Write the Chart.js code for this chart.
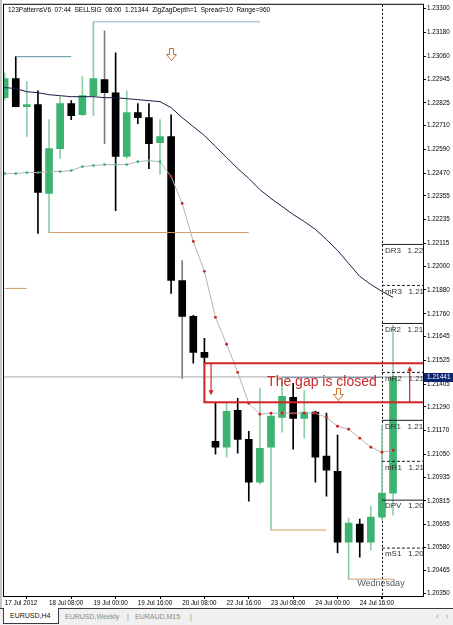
<!DOCTYPE html>
<html>
<head>
<meta charset="utf-8">
<script src="https://cdn.jsdelivr.net/npm/chart.js@4.4.1/dist/chart.umd.min.js"></script>
<style>
  html, body { margin: 0; padding: 0; background: #fff; }
  body { width: 453px; height: 625px; overflow: hidden; position: relative; font-family: "Liberation Sans", Arial, sans-serif; }
  #wrap { position: absolute; left: 0; top: 0; width: 453px; height: 609px; }
  #edge { position: absolute; left: 0; top: 0; width: 2px; height: 609px; background: #c4c4c4; }
  #tabs { position: absolute; left: 0; top: 608px; width: 453px; height: 17px; background: #f0f0f0; border-top: 1px solid #3a3a3a; font-size: 7px; color: #8a8a8a; }
  #tabs span { position: absolute; top: 4px; white-space: nowrap; line-height: 8px; }
  #tabs .sel { left: 3px; top: -1px; width: 54px; height: 15px; background: #fff; border: 1px solid #3a3a3a; border-top: none; color: #111; line-height: 15px; }
  #tabs .sel b { font-weight: normal; position: absolute; left: 6px; top: 0; }
</style>
</head>
<body>
<div id="wrap"><canvas id="chart" width="453" height="609"></canvas></div>
<div id="edge"></div>
<div id="tabs">
  <span class="sel"><b>EURUSD,H4</b></span>
  <span style="left:65px">EURUSD,Weekly</span>
  <span style="left:127px">|</span>
  <span style="left:135px">EURAUD,M15</span>
  <span style="left:190px">|</span>
  <span style="left:436px">&lsaquo;</span>
  <span style="left:446px">&rsaquo;</span>
</div>
<script>
// EURUSD H4 bars, 17 Jul 16:00 .. 25 Jul 04:00
const opens  = [1.22851, 1.22947, 1.22806, 1.22816, 1.22367, 1.22594, 1.22821, 1.22765, 1.22861, 1.22942, 1.22876, 1.22554,
                1.22776, 1.22750, 1.22624, 1.22655, 1.21928, 1.21747, 1.21565, 1.21116, 1.21086, 1.21273, 1.21126, 1.20910,
                1.21086, 1.21237, 1.21338, 1.21232, 1.21263, 1.21041, 1.20965, 1.20607, 1.20698, 1.20607, 1.20733, 1.20854];
const highs  = [1.22977, 1.23058, 1.22932, 1.22886, 1.22740, 1.22856, 1.22836, 1.22957, 1.23234, 1.23189, 1.23078, 1.22886,
                1.22821, 1.22821, 1.22740, 1.22765, 1.22029, 1.21752, 1.21636, 1.21313, 1.21308, 1.21333, 1.21167, 1.21384,
                1.21258, 1.21439, 1.21409, 1.21374, 1.21268, 1.21258, 1.21147, 1.20728, 1.20723, 1.20789, 1.21197, 1.21701];
const lows   = [1.22841, 1.22804, 1.22655, 1.22165, 1.22170, 1.22544, 1.22740, 1.22760, 1.22760, 1.22619, 1.22281, 1.22544,
                1.22720, 1.22493, 1.22463, 1.21863, 1.21434, 1.21510, 1.21510, 1.21051, 1.21036, 1.21056, 1.20814, 1.20900,
                1.20668, 1.21162, 1.21076, 1.21132, 1.20910, 1.20839, 1.20552, 1.20420, 1.20531, 1.20567, 1.20718, 1.20743];
const closes = [1.22947, 1.22806, 1.22816, 1.22372, 1.22594, 1.22821, 1.22760, 1.22861, 1.22947, 1.22876, 1.22554, 1.22776,
                1.22750, 1.22619, 1.22655, 1.21928, 1.21747, 1.21565, 1.21540, 1.21086, 1.21268, 1.21126, 1.20910, 1.21081,
                1.21243, 1.21343, 1.21232, 1.21263, 1.21036, 1.20970, 1.20607, 1.20703, 1.20607, 1.20733, 1.20854, 1.21441];

const maSlow = [1.22902, 1.22897, 1.22881, 1.22876, 1.22866, 1.22861, 1.22856, 1.22856, 1.22856, 1.22851, 1.22851, 1.22846,
                1.22841, 1.22836, 1.22831, 1.22801, 1.22750, 1.22705, 1.22660, 1.22604, 1.22549, 1.22493, 1.22443, 1.22387,
                1.22342, 1.22302, 1.22261, 1.22226, 1.22186, 1.22135, 1.22080, 1.22014, 1.21949, 1.21908, 1.21873, 1.21843];
const maFast = [1.22468, 1.22468, 1.22473, 1.22473, 1.22478, 1.22478, 1.22483, 1.22503, 1.22508, 1.22513, 1.22513, 1.22513,
                1.22528, 1.22533, 1.22528, 1.22453, 1.22317, 1.22125, 1.21974, 1.21742, 1.21606, 1.21464, 1.21308, 1.21253,
                1.21258, 1.21258, 1.21258, 1.21258, 1.21258, 1.21237, 1.21192, 1.21177, 1.21132, 1.21086, 1.21061, 1.21071];

const timeTicks  = [0, 4, 8, 12, 16, 20, 24, 28, 32];
const timeLabels = ['17 Jul 2012', '18 Jul 08:00', '19 Jul 00:00', '19 Jul 16:00', '20 Jul 08:00',
                    '22 Jul 16:00', '23 Jul 08:00', '24 Jul 00:00', '24 Jul 16:00'];
const priceTicks = [1.23300, 1.23180, 1.23060, 1.22945, 1.22825, 1.22710, 1.22590, 1.22470, 1.22355, 1.22235, 1.22115, 1.22000, 1.21880,
                    1.21760, 1.21645, 1.21525, 1.21405, 1.21290, 1.21170, 1.21050, 1.20935, 1.20815, 1.20695, 1.20580, 1.20465, 1.20350];

// daily pivot levels (drawn from the day separator)
const pivotNames  = ['DR3', 'mR3', 'DR2', 'mR2', 'DR1', 'mR1', 'DPV', 'mS1'];
const pivotValues = [1.22110, 1.21903, 1.21711, 1.21464, 1.21222, 1.21015, 1.20819, 1.20577];

// zigzag / pattern levels
const levelFrom  = [1, 8, 4, 0, 24, 31, 25];
const levelTo    = [6, 23, 22, 2, 29, 35, 34];
const levelPrice = [1.23058, 1.23234, 1.22170, 1.21888, 1.20668, 1.20420, 1.21439];
const levelColor = ['#5f8fa3', '#86b6bd', '#d39a68', '#d39a68', '#d39a68', '#d39a68', '#4f73a8'];

const signalBars   = [15, 30];
const signalPrices = [1.23103, 1.21384];

const daySep = 34;
const gapFrom = 18;
const bidPrice = 1.21441;
const xMin = -0.06, xMax = 37.7;

const idx = opens.map((v, i) => i);
const GREEN = '#3cb371';
const wickGray = [9, 16];

const isUp = i => closes[i] >= opens[i];

const overlay = {
  id: 'overlay',
  beforeDatasetsDraw(chart) {
    const { ctx, chartArea: a, scales: { x } } = chart;
    const px = Math.round(x.getPixelForValue(daySep)) + 0.5;
    ctx.save();
    ctx.strokeStyle = '#000';
    ctx.lineWidth = 1;
    ctx.setLineDash([2, 2]);
    ctx.beginPath();
    ctx.moveTo(px, a.top);
    ctx.lineTo(px, a.bottom + 4);
    ctx.stroke();
    ctx.restore();
  },
  afterDatasetsDraw(chart) {
    const { ctx, chartArea: a, scales: { x, y } } = chart;
    ctx.save();
    ctx.beginPath();
    ctx.rect(a.left, a.top, a.right - a.left, a.bottom - a.top);
    ctx.clip();

    // pivot labels
    ctx.font = '8px "Liberation Sans", Arial, sans-serif';
    ctx.fillStyle = '#333';
    ctx.textBaseline = 'top';
    const sx = x.getPixelForValue(daySep) + 3;
    pivotNames.forEach((n, k) => {
      ctx.fillText(n + '   ' + pivotValues[k].toFixed(5), sx, y.getPixelForValue(pivotValues[k]) + 2);
    });

    // gap box
    const gx = x.getPixelForValue(gapFrom);
    const gt = y.getPixelForValue(lows[gapFrom]);
    const gb = y.getPixelForValue(highs[gapFrom + 1]);
    ctx.strokeStyle = '#d02424';
    ctx.lineWidth = 2;
    ctx.strokeRect(gx, gt, a.right - gx + 2, gb - gt);

    // arrows inside the gap box
    ctx.lineWidth = 1.2;
    ctx.fillStyle = '#d02424';
    const ax1 = x.getPixelForValue(gapFrom + 0.6);
    ctx.beginPath(); ctx.moveTo(ax1, gt); ctx.lineTo(ax1, gb - 10); ctx.stroke();
    ctx.beginPath(); ctx.moveTo(ax1 - 2.5, gb - 12); ctx.lineTo(ax1 + 2.5, gb - 12); ctx.lineTo(ax1, gb - 7); ctx.fill();
    const ax2 = x.getPixelForValue(36.5);
    ctx.beginPath(); ctx.moveTo(ax2, gb); ctx.lineTo(ax2, gt + 6); ctx.stroke();
    ctx.beginPath(); ctx.moveTo(ax2 - 2.5, gt + 8); ctx.lineTo(ax2 + 2.5, gt + 8); ctx.lineTo(ax2, gt + 3); ctx.fill();

    ctx.font = '14px "Liberation Sans", Arial, sans-serif';
    ctx.textBaseline = 'alphabetic';
    ctx.fillStyle = '#c92a2a';
    ctx.fillText('The gap is closed', x.getPixelForValue(23.65), gt + 23);

    // hollow sell arrows
    ctx.strokeStyle = '#cf6f2e';
    ctx.fillStyle = '#fff';
    ctx.lineWidth = 1;
    signalBars.forEach((b, k) => {
      const cx = Math.round(x.getPixelForValue(b)) + 0.5;
      const ty = Math.round(y.getPixelForValue(signalPrices[k])) + 0.5;
      ctx.beginPath();
      ctx.moveTo(cx - 2, ty); ctx.lineTo(cx + 2, ty); ctx.lineTo(cx + 2, ty + 6);
      ctx.lineTo(cx + 5, ty + 6); ctx.lineTo(cx, ty + 12); ctx.lineTo(cx - 5, ty + 6);
      ctx.lineTo(cx - 2, ty + 6); ctx.closePath();
      ctx.fill(); ctx.stroke();
    });

    // day name
    ctx.font = '9px "Liberation Sans", Arial, sans-serif';
    ctx.fillStyle = '#555a66';
    ctx.textAlign = 'center';
    ctx.textBaseline = 'middle';
    ctx.fillText('Wednesday', x.getPixelForValue(daySep) - 1, a.bottom - 12);
    ctx.restore();
  },
  afterDraw(chart) {
    const { ctx, chartArea: a, scales: { y } } = chart;
    ctx.save();
    ctx.strokeStyle = '#000';
    ctx.lineWidth = 1;
    ctx.strokeRect(a.left - 0.5, a.top - 0.5, a.right - a.left + 1, a.bottom - a.top + 1);

    ctx.font = '6.5px "Liberation Sans", Arial, sans-serif';
    ctx.fillStyle = '#000';
    ctx.textBaseline = 'middle';
    ctx.fillText('123PatternsV6  07:44  SELLSIG  08:00  1.21344  ZigZagDepth=1  Spread=10  Range=960', a.left + 4, a.top + 5);

    const py = Math.round(y.getPixelForValue(bidPrice));
    ctx.fillStyle = '#0b2470';
    ctx.fillRect(a.right + 1, py - 4, 453 - a.right, 9);
    ctx.fillStyle = '#fff';
    ctx.fillText(bidPrice.toFixed(5), a.right + 4, py + 0.5);
    ctx.restore();
  }
};

const seg = (from, to, price, color, dash) => ({
  type: 'line',
  data: [{ x: from, y: price }, { x: to, y: price }],
  borderColor: color,
  borderWidth: 1,
  borderDash: dash || [],
  pointRadius: 0,
  order: 3,
  clip: 0
});

const datasets = [
  {
    type: 'line',
    data: idx.map(i => ({ x: i, y: maSlow[i] })),
    borderColor: '#1c1c4a',
    borderWidth: 1,
    pointRadius: 0,
    order: 1,
    clip: 0
  },
  {
    type: 'line',
    data: idx.map(i => ({ x: i, y: maFast[i] })),
    borderColor: '#b4b4b4',
    borderWidth: 1,
    pointRadius: 1.4,
    pointBorderWidth: 0,
    pointBackgroundColor: idx.map(i => i < 15 ? GREEN : '#cc1f1f'),
    order: 1,
    clip: 0
  },
  {
    type: 'bar',
    data: idx.map(i => ({ x: i, y: [opens[i], closes[i]] })),
    backgroundColor: idx.map(i => isUp(i) ? GREEN : '#000'),
    barThickness: 7,
    minBarLength: 1,
    grouped: false,
    order: 4,
    clip: 0
  },
  {
    type: 'bar',
    data: idx.map(i => ({ x: i, y: [lows[i], highs[i]] })),
    backgroundColor: idx.map(i => wickGray.includes(i) ? '#7c7c7c' : isUp(i) ? '#8ccfa6' : '#000'),
    barThickness: 1,
    grouped: false,
    order: 5,
    clip: 0
  },
  seg(xMin, xMax, bidPrice, '#a8a8a8'),
  ...levelPrice.map((p, k) => seg(levelFrom[k], levelTo[k], p, levelColor[k])),
  ...pivotValues.map((p, k) => seg(daySep, xMax, p, '#1a1a2a', pivotNames[k][0] === 'm' ? [3, 2] : []))
];

new Chart(document.getElementById('chart'), {
  type: 'bar',
  data: { datasets },
  options: {
    responsive: false,
    devicePixelRatio: 1,
    animation: false,
    layout: { padding: { left: 3, top: 4, right: 0, bottom: 0 } },
    plugins: { legend: { display: false }, tooltip: { enabled: false } },
    scales: {
      x: {
        type: 'linear',
        min: xMin,
        max: xMax,
        offset: false,
        afterBuildTicks: s => { s.ticks = timeTicks.map(v => ({ value: v })); },
        afterFit: s => { s.height = 13; },
        grid: { drawOnChartArea: false, tickLength: 3, color: '#000' },
        border: { display: true, color: '#000' },
        ticks: {
          autoSkip: false,
          maxRotation: 0,
          minRotation: 0,
          align: 'start',
          padding: 0,
          color: '#000',
          font: { family: '"Liberation Sans", Arial, sans-serif', size: 6.3 },
          callback: v => { const k = timeTicks.indexOf(v); return k >= 0 ? timeLabels[k] : ''; }
        }
      },
      y: {
        position: 'right',
        min: 1.20335,
        max: 1.2332,
        afterBuildTicks: s => { s.ticks = priceTicks.map(v => ({ value: v })); },
        afterFit: s => { s.width = 30; },
        grid: { drawOnChartArea: false, tickLength: 3, color: '#000' },
        border: { display: true, color: '#000' },
        ticks: {
          autoSkip: false,
          padding: 1,
          color: '#000',
          font: { family: '"Liberation Sans", Arial, sans-serif', size: 6.3 },
          callback: v => v.toFixed(5)
        }
      }
    }
  },
  plugins: [overlay]
});
</script>
</body>
</html>
